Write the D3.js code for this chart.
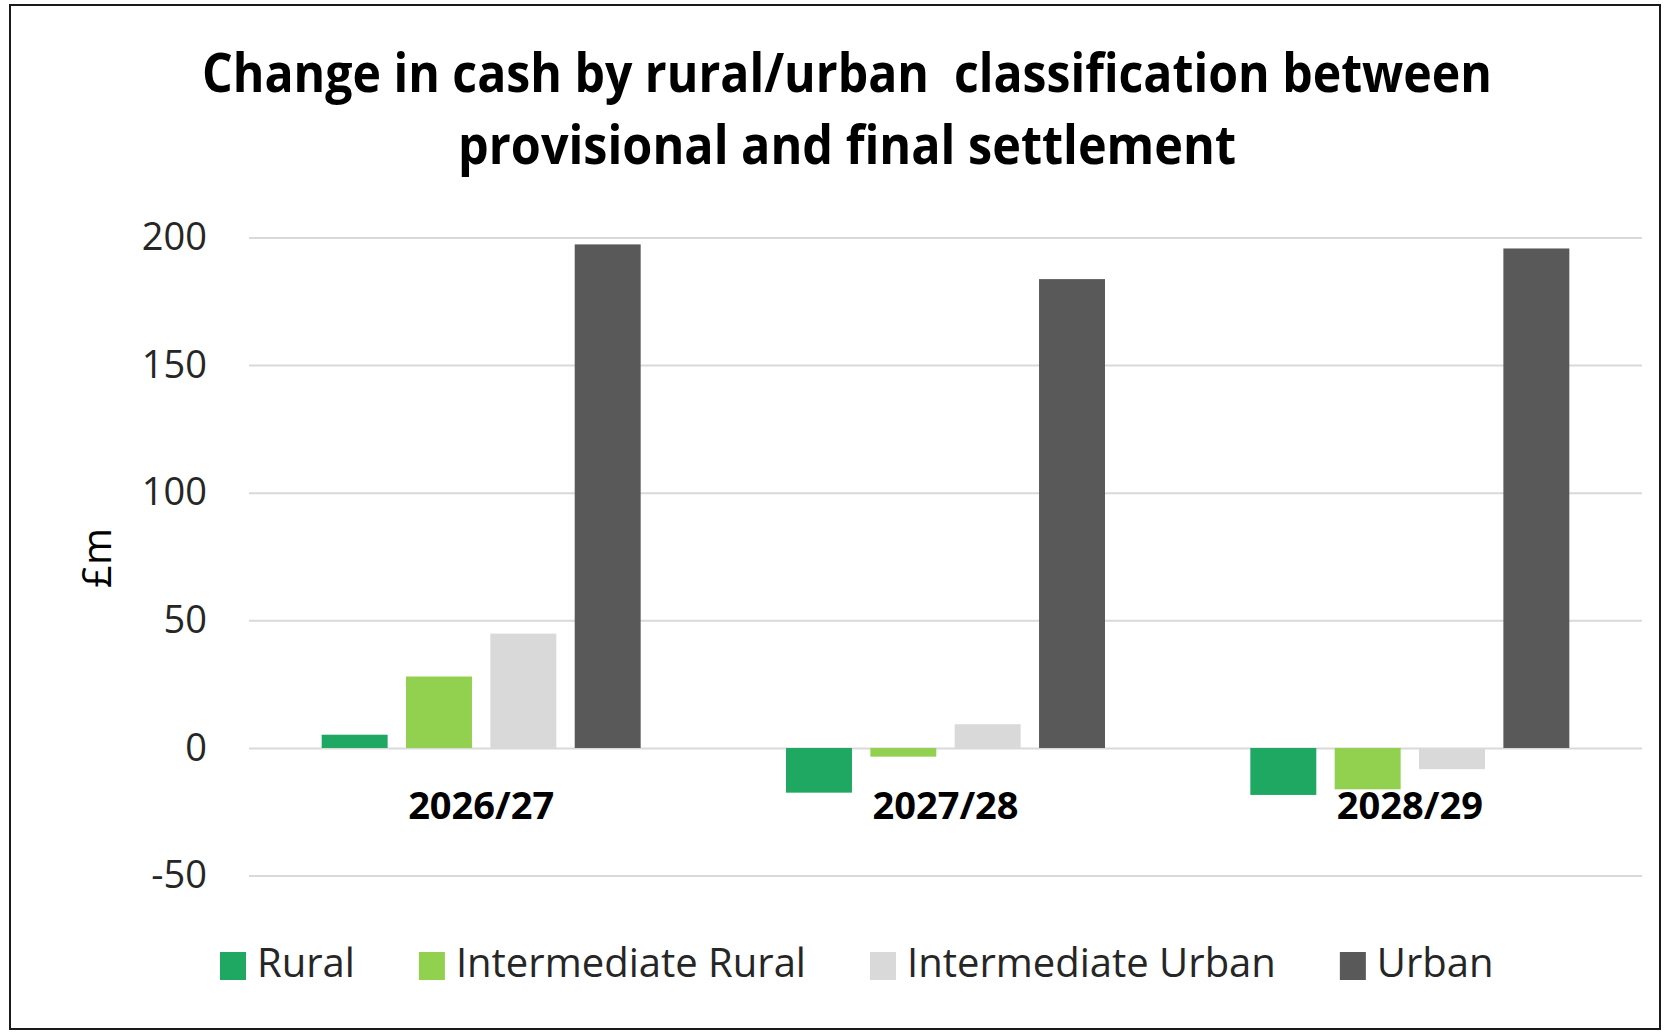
<!DOCTYPE html>
<html>
<head>
<meta charset="utf-8">
<script src="https://cdn.jsdelivr.net/npm/d3@7"></script>
<style>
  body { margin: 0; background: #fff; }
  svg { display: block; font-family: "Open Sans", sans-serif; }
</style>
</head>
<body>
<svg id="chart" width="1665" height="1032"></svg>
<script>
'use strict';

// data
var years = ['2026/27', '2027/28', '2028/29'];
var series = ['Rural', 'Intermediate Rural', 'Intermediate Urban', 'Urban'];
var rural = [5.2, -17.5, -18.4];
var intermediateRural = [28.0, -3.4, -16.2];
var intermediateUrban = [44.8, 9.3, -8.3];
var urban = [197.3, 183.7, 195.7];
var yTicks = [-50, 0, 50, 100, 150, 200];
var colors = ['#1fa862', '#92d050', '#d9d9d9', '#595959'];

var titleLines = ['Change in cash by rural/urban  classification between',
                  'provisional and final settlement'];

var values = [rural, intermediateRural, intermediateUrban, urban];

// layout
var plot = { left: 249, right: 1642, top: 237.5, bottom: 875.6 };

var svg = d3.select('#chart');

// chart border
svg.append('rect')
    .attr('x', 10).attr('y', 5)
    .attr('width', 1650).attr('height', 1024)
    .attr('fill', '#fff')
    .attr('stroke', '#1a1a1a')
    .attr('stroke-width', 2);

// title, squeezed to the narrow look of the original
var titleWidths = [1290, 778];
svg.selectAll('text.title')
    .data(titleLines)
    .enter()
    .append('text')
        .attr('class', 'title')
        .attr('x', 847)
        .attr('y', (d, i) => 92 + i * 72)
        .attr('text-anchor', 'middle')
        .attr('font-size', 54)
        .attr('font-weight', 'bold')
        .attr('fill', '#000')
        .attr('textLength', (d, i) => titleWidths[i])
        .attr('lengthAdjust', 'spacingAndGlyphs')
        .style('white-space', 'pre')
        .text(d => d);

var x0 = d3.scaleBand()
    .domain(years)
    .range([plot.left, plot.right]);

var groupWidth = 319;
var groupOffset = (x0.bandwidth() - groupWidth) / 2;
var x1 = d3.scaleBand()
    .domain(d3.range(series.length))
    .range([groupOffset, groupOffset + groupWidth])
    .paddingInner(0.218);

var y = d3.scaleLinear()
    .domain([-50, 200])
    .range([plot.bottom, plot.top]);

// gridlines and tick labels
var yAxis = svg.append('g')
    .attr('transform', 'translate(' + plot.left + ',0)')
    .call(d3.axisLeft(y)
        .tickValues(yTicks)
        .tickFormat(d => String(d))
        .tickSizeInner(-(plot.right - plot.left))
        .tickSizeOuter(0)
        .tickPadding(42));
yAxis.select('.domain').remove();
yAxis.selectAll('.tick line')
    .attr('stroke', '#d9d9d9')
    .attr('stroke-width', 2);
yAxis.selectAll('.tick text')
    .attr('font-family', '"Open Sans", sans-serif')
    .attr('font-size', 38)
    .attr('fill', '#262626');

// y axis title
svg.append('text')
    .attr('transform', 'translate(111,558) rotate(-90)')
    .attr('text-anchor', 'middle')
    .attr('font-size', 40)
    .attr('fill', '#000')
    .text('£m');

// bars
var groups = svg.selectAll('g.year')
    .data(years)
    .enter()
    .append('g')
        .attr('class', 'year')
        .attr('transform', d => 'translate(' + x0(d) + ',0)');

groups.selectAll('rect')
    .data((d, i) => values.map((s, k) => ({ k: k, v: s[i] })))
    .enter()
    .append('rect')
        .attr('x', d => x1(d.k))
        .attr('width', x1.bandwidth())
        .attr('y', d => y(Math.max(0, d.v)))
        .attr('height', d => Math.abs(y(d.v) - y(0)))
        .attr('fill', d => colors[d.k]);

// category labels
svg.selectAll('text.cat')
    .data(years)
    .enter()
    .append('text')
        .attr('class', 'cat')
        .attr('x', d => x0(d) + x0.bandwidth() / 2)
        .attr('y', 819)
        .attr('text-anchor', 'middle')
        .attr('font-size', 38)
        .attr('font-weight', 'bold')
        .attr('fill', '#000')
        .text(d => d);

// legend
var legend = svg.append('g').attr('transform', 'translate(220,0)');
var lx = 0;
series.forEach(function (name, k) {
    legend.append('rect')
        .attr('x', lx).attr('y', 952)
        .attr('width', 26).attr('height', 28)
        .attr('fill', colors[k]);
    var t = legend.append('text')
        .attr('x', lx + 37)
        .attr('y', 977)
        .attr('font-size', 40)
        .attr('fill', '#262626')
        .text(name);
    lx += 37 + t.node().getComputedTextLength() + 64;
});
</script>
</body>
</html>
